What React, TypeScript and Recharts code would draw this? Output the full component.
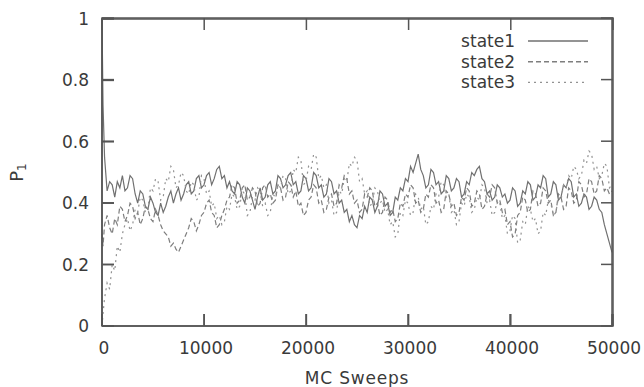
import { LineChart, Line, XAxis, YAxis } from 'recharts';

// x grid: two early samples, then every 250 sweeps
const SWEEPS = [0, 100, ...Array.from({ length: 200 }, (_, i) => (i + 1) * 250)];

const STATE1 = [
  1.0, 0.72,
  0.55, 0.44, 0.47, 0.46, 0.42, 0.47, 0.45, 0.49, 0.44, 0.45,
  0.49, 0.48, 0.43, 0.40, 0.44, 0.43, 0.39, 0.38, 0.42, 0.40,
  0.37, 0.36, 0.40, 0.37, 0.39, 0.42, 0.44, 0.40, 0.43, 0.45,
  0.41, 0.43, 0.46, 0.47, 0.43, 0.44, 0.48, 0.49, 0.45, 0.46,
  0.49, 0.50, 0.46, 0.48, 0.51, 0.52, 0.48, 0.49, 0.45, 0.47,
  0.44, 0.43, 0.47, 0.46, 0.42, 0.40, 0.45, 0.44, 0.41, 0.38,
  0.42, 0.45, 0.41, 0.42, 0.46, 0.47, 0.43, 0.44, 0.49, 0.48,
  0.45, 0.46, 0.49, 0.50, 0.46, 0.47, 0.43, 0.44, 0.49, 0.48,
  0.44, 0.45, 0.50, 0.49, 0.45, 0.46, 0.42, 0.43, 0.48, 0.47,
  0.43, 0.44, 0.40, 0.41, 0.37, 0.38, 0.34, 0.36, 0.33, 0.32,
  0.36, 0.35, 0.39, 0.37, 0.42, 0.41, 0.37, 0.39, 0.44, 0.43,
  0.39, 0.40, 0.36, 0.37, 0.42, 0.41, 0.45, 0.44, 0.48, 0.47,
  0.52, 0.50, 0.53, 0.56, 0.51, 0.49, 0.45, 0.46, 0.51, 0.50,
  0.46, 0.47, 0.43, 0.44, 0.49, 0.48, 0.44, 0.45, 0.48, 0.47,
  0.42, 0.43, 0.47, 0.46, 0.50, 0.49, 0.51, 0.52, 0.48, 0.47,
  0.43, 0.44, 0.41, 0.42, 0.46, 0.45, 0.42, 0.43, 0.40, 0.41,
  0.45, 0.44, 0.39, 0.40, 0.44, 0.43, 0.47, 0.46, 0.41, 0.42,
  0.46, 0.45, 0.49, 0.48, 0.42, 0.43, 0.47, 0.46, 0.41, 0.42,
  0.46, 0.45, 0.48, 0.47, 0.42, 0.43, 0.39, 0.40, 0.43, 0.42,
  0.38, 0.39, 0.42, 0.41, 0.38, 0.37, 0.33, 0.30, 0.27, 0.24,
];

const STATE2 = [
  0.30, 0.26,
  0.33, 0.36, 0.32, 0.30, 0.35, 0.33, 0.39, 0.38, 0.34, 0.36,
  0.40, 0.39, 0.35, 0.37, 0.33, 0.35, 0.39, 0.38, 0.35, 0.34,
  0.38, 0.36, 0.33, 0.31, 0.30, 0.29, 0.26, 0.27, 0.25, 0.24,
  0.26, 0.28, 0.30, 0.32, 0.35, 0.34, 0.31, 0.33, 0.36, 0.37,
  0.40, 0.41, 0.37, 0.36, 0.32, 0.33, 0.36, 0.38, 0.41, 0.42,
  0.46, 0.45, 0.40, 0.41, 0.45, 0.46, 0.41, 0.42, 0.45, 0.44,
  0.39, 0.40, 0.45, 0.46, 0.42, 0.43, 0.40, 0.41, 0.46, 0.45,
  0.41, 0.42, 0.47, 0.46, 0.42, 0.44, 0.39, 0.40, 0.36, 0.37,
  0.41, 0.42, 0.46, 0.45, 0.40, 0.41, 0.37, 0.38, 0.42, 0.43,
  0.39, 0.40, 0.46, 0.45, 0.49, 0.48, 0.43, 0.44, 0.40, 0.41,
  0.37, 0.38, 0.43, 0.42, 0.45, 0.44, 0.39, 0.40, 0.36, 0.37,
  0.42, 0.41, 0.37, 0.38, 0.34, 0.35, 0.40, 0.39, 0.43, 0.42,
  0.46, 0.45, 0.40, 0.41, 0.37, 0.38, 0.43, 0.42, 0.46, 0.45,
  0.40, 0.41, 0.37, 0.38, 0.44, 0.43, 0.39, 0.40, 0.36, 0.37,
  0.42, 0.41, 0.45, 0.44, 0.39, 0.40, 0.44, 0.43, 0.38, 0.39,
  0.43, 0.42, 0.46, 0.45, 0.40, 0.41, 0.37, 0.38, 0.33, 0.34,
  0.29, 0.30, 0.36, 0.37, 0.42, 0.41, 0.37, 0.38, 0.44, 0.43,
  0.39, 0.40, 0.45, 0.44, 0.40, 0.41, 0.36, 0.37, 0.43, 0.42,
  0.38, 0.39, 0.45, 0.44, 0.40, 0.41, 0.47, 0.46, 0.42, 0.43,
  0.48, 0.47, 0.43, 0.44, 0.49, 0.48, 0.44, 0.45, 0.43, 0.44,
];

const STATE3 = [
  0.00, 0.04,
  0.09, 0.14, 0.12, 0.20, 0.18, 0.26, 0.24, 0.30, 0.33, 0.35,
  0.31, 0.33, 0.38, 0.37, 0.42, 0.41, 0.37, 0.38, 0.45, 0.44,
  0.48, 0.47, 0.41, 0.42, 0.48, 0.47, 0.52, 0.51, 0.45, 0.46,
  0.50, 0.49, 0.44, 0.43, 0.47, 0.46, 0.41, 0.42, 0.49, 0.48,
  0.43, 0.44, 0.39, 0.40, 0.35, 0.36, 0.33, 0.34, 0.39, 0.38,
  0.43, 0.42, 0.38, 0.39, 0.44, 0.43, 0.36, 0.37, 0.42, 0.41,
  0.45, 0.44, 0.39, 0.40, 0.36, 0.37, 0.43, 0.42, 0.46, 0.45,
  0.49, 0.48, 0.43, 0.44, 0.51, 0.50, 0.55, 0.54, 0.46, 0.47,
  0.52, 0.51, 0.56, 0.55, 0.48, 0.49, 0.45, 0.46, 0.40, 0.41,
  0.36, 0.37, 0.44, 0.43, 0.48, 0.47, 0.53, 0.52, 0.55, 0.54,
  0.47, 0.48, 0.43, 0.44, 0.39, 0.40, 0.45, 0.44, 0.40, 0.41,
  0.37, 0.38, 0.33, 0.34, 0.29, 0.30, 0.37, 0.36, 0.41, 0.40,
  0.36, 0.37, 0.43, 0.42, 0.38, 0.39, 0.33, 0.34, 0.39, 0.38,
  0.43, 0.42, 0.47, 0.46, 0.42, 0.43, 0.37, 0.38, 0.33, 0.34,
  0.40, 0.39, 0.43, 0.42, 0.37, 0.38, 0.42, 0.41, 0.46, 0.45,
  0.40, 0.41, 0.36, 0.37, 0.41, 0.40, 0.35, 0.36, 0.30, 0.31,
  0.36, 0.35, 0.27, 0.28, 0.34, 0.33, 0.39, 0.38, 0.34, 0.35,
  0.30, 0.31, 0.37, 0.36, 0.41, 0.40, 0.36, 0.37, 0.42, 0.41,
  0.46, 0.45, 0.49, 0.48, 0.52, 0.51, 0.48, 0.49, 0.54, 0.53,
  0.57, 0.56, 0.51, 0.52, 0.48, 0.49, 0.53, 0.52, 0.45, 0.46,
];

const SERIES_NAMES = ['state1', 'state2', 'state3'];
const X_DOMAIN = [0, 50000];
const Y_DOMAIN = [0, 1];
const X_TICKS = [0, 10000, 20000, 30000, 40000, 50000];
const Y_TICKS = [0, 0.2, 0.4, 0.6, 0.8, 1];

const data = SWEEPS.map((sweep, i) => ({
  sweep,
  state1: STATE1[i],
  state2: STATE2[i],
  state3: STATE3[i],
}));

const W = 644;
const H = 387;
const MARGIN = { top: 18, right: 31, bottom: 0, left: 0 };
const Y_AXIS_W = 102;
const X_AXIS_H = 61;
const PLOT_LEFT = MARGIN.left + Y_AXIS_W;
const PLOT_RIGHT = W - MARGIN.right;
const PLOT_TOP = MARGIN.top;
const PLOT_BOTTOM = H - X_AXIS_H;
const TICK_LEN = 12;

const FONT = 'DejaVu Sans, sans-serif';
const TEXT = '#3a3a3a';
const AXIS = '#555555';
const axisLineStyle = { stroke: AXIS, strokeWidth: 1.5 };

const styles = [
  { stroke: '#707070', dash: undefined },
  { stroke: '#7e7e7e', dash: '5 3' },
  { stroke: '#929292', dash: '2 4' },
];

// same linear mapping as the plot box, used only for the border ticks
const sx = (v: number) => PLOT_LEFT + ((v - X_DOMAIN[0]) / (X_DOMAIN[1] - X_DOMAIN[0])) * (PLOT_RIGHT - PLOT_LEFT);
const sy = (v: number) => PLOT_BOTTOM - ((v - Y_DOMAIN[0]) / (Y_DOMAIN[1] - Y_DOMAIN[0])) * (PLOT_BOTTOM - PLOT_TOP);

const YTick = (props: any) => {
  const { x, y, payload } = props;
  return (
    <text x={x} y={y + 6} textAnchor="end" fontFamily={FONT} fontSize={17} fill={TEXT}>
      {payload.value}
    </text>
  );
};

const XTick = (props: any) => {
  const { x, payload } = props;
  return (
    <text x={x + 2} y={PLOT_BOTTOM + 28} textAnchor="middle" fontFamily={FONT} fontSize={17} fill={TEXT}>
      {payload.value}
    </text>
  );
};

const renderYLabel = (props: any) => {
  const vb = props.viewBox;
  const cx = 23;
  const cy = vb.y + vb.height / 2;
  return (
    <text
      x={cx}
      y={cy}
      transform={`rotate(-90, ${cx}, ${cy})`}
      textAnchor="middle"
      fontFamily={FONT}
      fontSize={18}
      fill={TEXT}
    >
      P<tspan fontSize={12} dy={3}>1</tspan>
    </text>
  );
};

export default function App() {
  return (
    <div style={{ position: 'absolute', left: 0, top: 0, width: W, height: H, background: '#fff' }}>
      <LineChart width={W} height={H} data={data} margin={MARGIN}>
        <XAxis
          dataKey="sweep"
          type="number"
          domain={X_DOMAIN}
          ticks={X_TICKS}
          height={X_AXIS_H}
          tickSize={-TICK_LEN}
          tickMargin={28}
          axisLine={axisLineStyle}
          tickLine={axisLineStyle}
          tick={XTick}
          label={{
            value: 'MC Sweeps',
            position: 'insideBottom',
            offset: 3,
            style: { fontFamily: FONT, fontSize: 17, fill: TEXT, letterSpacing: 0.8 },
          }}
        />
        <XAxis
          xAxisId="top"
          orientation="top"
          dataKey="sweep"
          type="number"
          domain={X_DOMAIN}
          ticks={X_TICKS}
          height={1}
          tickSize={-TICK_LEN}
          axisLine={axisLineStyle}
          tickLine={axisLineStyle}
          tick={false}
        />
        <YAxis
          type="number"
          domain={Y_DOMAIN}
          ticks={Y_TICKS}
          width={Y_AXIS_W}
          tickSize={-TICK_LEN}
          tickMargin={25}
          axisLine={axisLineStyle}
          tickLine={axisLineStyle}
          tick={YTick}
          label={renderYLabel}
        />
        <YAxis
          yAxisId="right"
          orientation="right"
          type="number"
          domain={Y_DOMAIN}
          ticks={Y_TICKS}
          width={1}
          tickSize={-TICK_LEN}
          axisLine={axisLineStyle}
          tickLine={axisLineStyle}
          tick={false}
        />
        {SERIES_NAMES.map((name, i) => (
          <Line
            key={name}
            type="linear"
            dataKey={name}
            name={name}
            stroke={styles[i].stroke}
            strokeWidth={1.2}
            strokeDasharray={styles[i].dash}
            dot={false}
            isAnimationActive={false}
          />
        ))}
      </LineChart>
      <svg width={200} height={70} style={{ position: 'absolute', left: 400, top: 30 }}>
        {SERIES_NAMES.map((name, i) => {
          const cy = 11 + i * 20.7;
          return (
            <g key={name}>
              <text x={115} y={cy + 6} textAnchor="end" fontFamily={FONT} fontSize={17} fill={TEXT}>
                {name}
              </text>
              <line x1={128} x2={188} y1={cy} y2={cy} stroke={styles[i].stroke} strokeWidth={1.4} strokeDasharray={styles[i].dash} />
            </g>
          );
        })}
      </svg>
      <svg width={W} height={H} style={{ position: 'absolute', left: 0, top: 0 }}>
        <rect x={102} y={18} width={511} height={308} fill="none" stroke={AXIS} strokeWidth={1.5} />
        {X_TICKS.map((t) => (
          <g key={`x${t}`}>
            <line x1={sx(t)} x2={sx(t)} y1={PLOT_BOTTOM} y2={PLOT_BOTTOM - TICK_LEN} stroke={AXIS} strokeWidth={1.5} />
            <line x1={sx(t)} x2={sx(t)} y1={PLOT_TOP} y2={PLOT_TOP + TICK_LEN} stroke={AXIS} strokeWidth={1.5} />
          </g>
        ))}
        {Y_TICKS.map((t) => (
          <g key={`y${t}`}>
            <line x1={PLOT_LEFT} x2={PLOT_LEFT + TICK_LEN} y1={sy(t)} y2={sy(t)} stroke={AXIS} strokeWidth={1.5} />
            <line x1={PLOT_RIGHT - TICK_LEN} x2={PLOT_RIGHT} y1={sy(t)} y2={sy(t)} stroke={AXIS} strokeWidth={1.5} />
          </g>
        ))}
      </svg>
    </div>
  );
}
